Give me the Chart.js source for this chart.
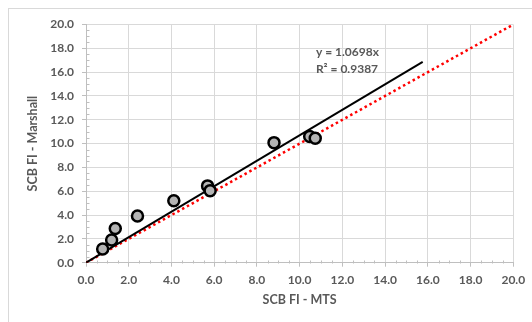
<!DOCTYPE html>
<html><head><meta charset="utf-8">
<script src="https://cdn.jsdelivr.net/npm/chart.js@4/dist/chart.umd.min.js"></script>
<style>html,body{margin:0;padding:0;background:#fff;}#wrap{width:532px;height:322px;position:relative;}</style>
</head><body><div id="wrap"><canvas id="c" width="532" height="322"></canvas></div>
<script>
// Measured points (SCB FI - MTS vs SCB FI - Marshall)
const mtsValues = [0.78, 1.20, 1.37, 2.41, 4.11, 5.69, 5.81, 8.80, 10.47, 10.73];
const marshallValues = [1.15, 1.91, 2.88, 3.92, 5.21, 6.45, 6.05, 10.08, 10.59, 10.45];
// Linear trend line endpoints (y = 1.0698x)
const trendX = [0, 15.76];
const trendY = [0, 16.86];
// 1:1 line endpoints
const unityX = [0, 20];
const unityY = [0, 20];
const axisMin = 0, axisMax = 20, majorStep = 2, minorStep = 0.5;
const xTitle = 'SCB FI - MTS';
const yTitle = 'SCB FI - Marshall';
const eqLines = ['y = 1.0698x', 'R² = 0.9387'];
const eqPos = {x: 10.76, y: 17.70};

const textColor = '#595959';
const font = "Lato, 'Open Sans', sans-serif";

const toPts = (xs, ys) => xs.map((x, i) => ({x, y: ys[i]}));

const bgBorder = {
  id: 'bgBorder',
  beforeDraw(chart) {
    const ctx = chart.ctx;
    ctx.save();
    ctx.strokeStyle = '#d9d9d9';
    ctx.lineWidth = 1;
    ctx.strokeRect(8.5, 8.5, 600, 400);
    ctx.restore();
  }
};

const minorTicks = {
  id: 'minorTicks',
  afterDraw(chart) {
    const {ctx, scales: {x, y}} = chart;
    ctx.save();
    ctx.strokeStyle = '#bfbfbf';
    ctx.lineWidth = 1;
    const y0 = Math.round(y.getPixelForValue(axisMin)) + 0.5;
    const x0 = Math.round(x.getPixelForValue(axisMin)) + 0.5;
    for (let v = axisMin; v <= axisMax + 1e-9; v += minorStep) {
      if (Math.abs(v / majorStep - Math.round(v / majorStep)) < 1e-6) continue;
      const px = Math.round(x.getPixelForValue(v)) + 0.5;
      ctx.beginPath(); ctx.moveTo(px, y0 - 3); ctx.lineTo(px, y0); ctx.stroke();
      const py = Math.round(y.getPixelForValue(v)) + 0.5;
      ctx.beginPath(); ctx.moveTo(x0, py); ctx.lineTo(x0 + 3, py); ctx.stroke();
    }
    ctx.restore();
  }
};

const eqLabel = {
  id: 'eqLabel',
  afterDatasetsDraw(chart) {
    const {ctx, scales: {x, y}} = chart;
    ctx.save();
    ctx.fillStyle = textColor;
    ctx.font = 'bold 12px ' + font;
    ctx.textAlign = 'left';
    ctx.textBaseline = 'middle';
    const px = x.getPixelForValue(eqPos.x);
    const py = y.getPixelForValue(eqPos.y);
    eqLines.forEach((t, i) => ctx.fillText(t, px, py + i * 17.5));
    ctx.restore();
  }
};

new Chart(document.getElementById('c'), {
  type: 'scatter',
  data: {
    datasets: [
      {
        label: 'data',
        data: toPts(mtsValues, marshallValues),
        backgroundColor: '#b4b4b4',
        borderColor: '#000',
        borderWidth: 2.5,
        pointRadius: 5.5,
        showLine: false
      },
      {
        label: 'trend',
        data: toPts(trendX, trendY),
        showLine: true,
        borderColor: '#000',
        borderWidth: 2,
        pointRadius: 0,
        fill: false
      },
      {
        label: 'unity',
        data: toPts(unityX, unityY),
        showLine: true,
        borderColor: '#ff0000',
        borderWidth: 2.5,
        borderDash: [2.5, 3],
        pointRadius: 0,
        fill: false
      }
    ]
  },
  options: {
    responsive: false,
    animation: false,
    devicePixelRatio: 1,
    layout: {padding: {left: 0, top: 24.5, right: 18.7, bottom: 0}},
    plugins: {legend: {display: false}, tooltip: {enabled: false}},
    scales: {
      x: {
        type: 'linear', min: axisMin, max: axisMax,
        afterFit: s => { s.height = 59.3; },
        border: {color: '#bfbfbf', width: 1},
        grid: {color: '#d9d9d9', lineWidth: 1, tickLength: 4, tickColor: '#bfbfbf'},
        ticks: {stepSize: majorStep, color: textColor, padding: 6, maxRotation: 0,
          font: {family: font, size: 12, weight: 'bold'},
          callback: v => Number(v).toFixed(1)},
        title: {display: true, text: xTitle, color: textColor,
          font: {family: font, size: 12.5, weight: 'bold'}, padding: {top: 0, bottom: 14.8}}
      },
      y: {
        type: 'linear', min: axisMin, max: axisMax,
        afterFit: s => { s.width = 86; },
        border: {color: '#bfbfbf', width: 1},
        grid: {color: '#d9d9d9', lineWidth: 1, tickLength: 4, tickColor: '#bfbfbf'},
        ticks: {stepSize: majorStep, color: textColor, padding: 8,
          font: {family: font, size: 12, weight: 'bold'},
          callback: v => Number(v).toFixed(1)},
        title: {display: true, text: yTitle, color: textColor,
          font: {family: font, size: 12.5, weight: 'bold'}, padding: {top: 25.8, bottom: 0}}
      }
    }
  },
  plugins: [bgBorder, minorTicks, eqLabel]
});
</script></body></html>
